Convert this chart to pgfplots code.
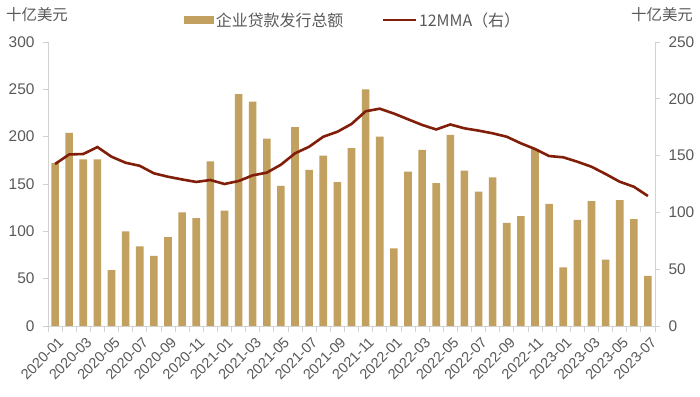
\documentclass[border=0pt]{standalone}
\usepackage{pgfplots}
\pgfplotsset{compat=1.18}
\usepackage{fontspec}
\setmainfont{Liberation Sans}
\newfontfamily\cjk{Noto Sans CJK SC}
\definecolor{bartan}{RGB}{193,160,96}
\definecolor{linered}{RGB}{128,30,10}
\definecolor{axisgray}{RGB}{210,210,210}
\definecolor{txtgray}{RGB}{89,89,89}
\pgfplotstableread{
x bar line
0 172 142.6
1 204 151
2 176 151.4
3 176 157.5
4 59 149
5 100 143.7
6 84 141
7 74 134.4
8 94 131.4
9 120 129
10 114 126.8
11 174 128.5
12 122 125
13 245 127.6
14 237 132.6
15 198 135
16 148 142
17 210 152
18 165 157.8
19 180 166.6
20 152 171
21 188 177.8
22 250 189
23 200 191.3
24 82 187
25 163 182
26 186 177
27 151 173
28 202 177.4
29 164 174
30 142 172
31 157 169.6
32 109 166.6
33 116 160.8
34 187 155.8
35 129 149.6
36 62 148.5
37 112 144.6
38 132 140.2
39 70 133.8
40 133 127
41 113 122.6
42 53 114.4
}\data
\begin{document}
\begin{tikzpicture}
\useasboundingbox (0,0) rectangle (700bp,397bp);
\begin{axis}[
  at={(48bp,71bp)}, anchor=south west,
  scale only axis, width=607bp, height=284bp,
  xmin=-0.5, xmax=42.5, ymin=0, ymax=300,
  axis x line*=bottom, axis y line*=left,
  axis line style={-, draw=axisgray, line width=0.8bp},
  tick align=outside,
  xtick={0,2,...,42},
  xticklabels={2020-01,2020-03,2020-05,2020-07,2020-09,2020-11,2021-01,2021-03,2021-05,2021-07,2021-09,2021-11,2022-01,2022-03,2022-05,2022-07,2022-09,2022-11,2023-01,2023-03,2023-05,2023-07},
  minor xtick={-0.5,0.5,...,42.5},
  major x tick style={draw=none},
  minor x tick style={draw=axisgray, line width=0.8bp},
  minor tick length=6bp,
  major tick length=5bp,
  ytick={0,50,...,300},
  ytick style={draw=axisgray, line width=0.8bp},
  /pgf/number format/assume math mode=true,
  yticklabel style={font=\fontsize{15.5}{18}\selectfont, text=txtgray, xshift=-5bp},
  xticklabel style={font=\fontsize{14.5}{17}\selectfont, text=txtgray, rotate=45, anchor=north east, inner sep=2bp, yshift=-3bp},
  legend style={at={(0.5025,1.0775)}, anchor=center, draw=none, fill=none,
    font=\cjk\fontsize{16}{19}\selectfont, text=txtgray,
    /tikz/every even column/.append style={column sep=36bp},
    nodes={inner sep=2bp}},
  legend columns=2,
]
\addplot[ybar, bar width=7.6bp, fill=bartan, draw=none,
  legend image code/.code={\fill[bartan] (0bp,-4bp) rectangle (30bp,4bp);}]
  table[x=x, y=bar] {\data};
\addlegendentry{企业贷款发行总额}
\addlegendimage{linered, line width=2.6bp, legend image code/.code={\draw[linered, line width=2.6bp] (0bp,0bp) -- (33bp,0bp);}}
\addlegendentry{12MMA（右）}
\end{axis}
\begin{axis}[
  at={(48bp,71bp)}, anchor=south west,
  scale only axis, width=607bp, height=284bp,
  xmin=-0.5, xmax=42.5, ymin=0, ymax=250,
  axis x line=none, axis y line*=right,
  axis line style={-, draw=axisgray, line width=0.8bp},
  tick align=outside,
  major tick length=5bp,
  ytick={0,50,...,250},
  ytick style={draw=axisgray, line width=0.8bp},
  /pgf/number format/assume math mode=true,
  yticklabel style={font=\fontsize{15.5}{18}\selectfont, text=txtgray, xshift=5bp},
]
\addplot[linered, line width=2.6bp, no markers] table[x=x, y=line] {\data};
\end{axis}
\node[font=\cjk\fontsize{15.5}{18}\selectfont, text=txtgray] at (37bp,382bp) {十亿美元};
\node[font=\cjk\fontsize{15.5}{18}\selectfont, text=txtgray] at (662bp,382bp) {十亿美元};
\end{tikzpicture}
\end{document}
